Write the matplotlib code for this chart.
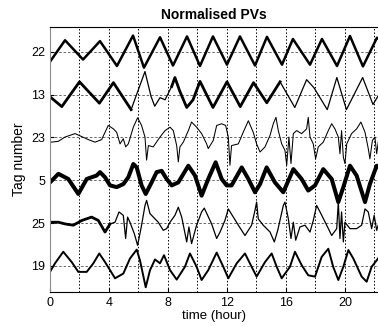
import matplotlib
matplotlib.use("Agg")
import matplotlib.pyplot as plt
import numpy as np

plt.rcParams['font.family'] = ['Liberation Sans', 'DejaVu Sans']

# tags, top to bottom
tags = ['22', '13', '23', '5', '25', '19']

# normalised PV traces (deviation from each tag's baseline), time in hours
t22 = [0, 1.02, 2.24, 3.39, 4.54, 5.63, 6.37, 7.46, 8.34, 9.29, 10.17, 11.05, 12.0,
       12.88, 13.9, 14.71, 15.73, 16.47, 17.63, 18.44, 19.46, 20.34, 21.22, 22.17, 22.3]
v22 = [-0.23, 0.27, -0.18, 0.25, -0.33, 0.38, -0.37, 0.34, -0.32, 0.36, -0.33, 0.36, -0.3,
       0.36, -0.32, 0.35, -0.3, 0.3, -0.3, 0.3, -0.33, 0.37, -0.34, 0.33, 0.3]

t13 = [0, 0.8, 2.0, 3.35, 4.3, 5.5, 6.44, 6.85, 7.1, 7.46, 7.8, 8.25, 8.47, 8.8, 9.27,
       9.7, 10.17, 11.05, 12.0, 12.9, 13.8, 14.7, 15.6, 16.6, 17.4, 17.9, 18.8, 19.45,
       20.1, 21.2, 21.9, 22.3]
v13 = [-0.05, -0.28, 0.3, -0.2, 0.28, -0.35, 0.54, -0.04, -0.27, -0.07, -0.12, 0.19, 0.4,
       0.08, -0.3, -0.12, 0.31, -0.3, 0.3, -0.28, 0.28, -0.19, 0.3, -0.3, 0.35, 0.16,
       -0.35, 0.4, -0.35, 0.4, -0.23, 0.0]

t23 = [0.07, 0.57, 1.02, 1.7, 2.15, 2.6, 3.05, 3.5, 3.95, 4.3, 4.52, 4.75, 4.97, 5.13,
       5.31, 5.65, 5.94, 6.21, 6.44, 6.55, 6.67, 7.0, 7.46, 7.8, 8.14, 8.36, 8.59, 8.7,
       8.81, 9.04, 9.38, 9.6, 9.94, 10.28, 10.62, 10.73, 11.07, 11.3, 11.64, 11.91, 12.09,
       12.2, 12.31, 12.77, 13.1, 13.45, 13.78, 14.01, 14.24, 14.58, 14.92, 15.14, 15.32,
       15.48, 15.71, 15.93, 16.05, 16.2, 16.34, 16.5, 16.72, 17.06, 17.4, 17.51, 17.63,
       17.85, 18.01, 18.19, 18.53, 18.87, 19.1, 19.32, 19.55, 19.66, 19.77, 19.89, 20.0,
       20.12, 20.45, 20.79, 21.08, 21.36, 21.58, 21.69, 21.86, 22.03, 22.15, 22.3]
v23 = [-0.11, -0.09, 0.01, 0.09, 0.02, -0.05, -0.11, -0.05, 0.28, 0.2, 0.12, -0.15, -0.03,
       -0.22, -0.15, 0.24, 0.46, 0.28, 0.01, -0.53, -0.19, -0.22, 0.01, 0.16, 0.24, 0.16,
       -0.19, -0.57, -0.22, -0.11, 0.16, 0.36, 0.24, 0.09, -0.15, -0.26, -0.07, 0.28, 0.32,
       0.28, 0.01, -0.65, -0.19, -0.15, 0.12, 0.39, 0.12, -0.15, -0.34, -0.22, 0.05, 0.32,
       0.47, 0.16, -0.15, -0.3, -0.65, 0.01, -0.61, 0.09, 0.16, 0.09, 0.2, 0.47, 0.01,
       -0.15, -0.5, -0.22, -0.11, 0.16, 0.32, 0.2, 0.01, -0.38, 0.16, -0.46, -0.61, -0.15,
       0.09, 0.2, 0.36, 0.12, -0.26, -0.5, -0.07, 0.01, -0.38, 0.0]

t5 = [0, 0.57, 1.24, 1.92, 2.49, 2.82, 3.16, 3.39, 3.73, 4.07, 4.52, 4.97, 5.31, 5.65,
      5.88, 6.21, 6.49, 6.89, 7.23, 7.57, 7.91, 8.25, 8.7, 9.38, 9.83, 10.28, 10.73,
      11.23, 11.64, 11.98, 12.31, 13.0, 13.45, 13.9, 14.24, 14.69, 15.25, 15.82, 16.5,
      17.06, 17.51, 17.97, 18.53, 19.1, 19.55, 19.89, 20.34, 20.79, 21.36, 21.69, 22.15, 22.3]
v5 = [-0.05, 0.15, 0.03, -0.32, 0.03, 0.07, 0.11, 0.19, 0.07, -0.12, -0.16, -0.09, 0.07,
      0.38, 0.3, -0.12, -0.32, -0.05, 0.19, 0.22, 0.03, -0.12, -0.05, 0.34, 0.11, -0.36,
      0.03, 0.42, 0.03, -0.12, -0.12, 0.3, 0.03, -0.28, -0.09, 0.3, -0.05, -0.28, 0.26,
      0.03, -0.24, -0.12, 0.26, 0.03, -0.51, -0.16, 0.34, 0.11, -0.51, -0.09, 0.34, 0.3]

t25 = [0.07, 0.57, 1.02, 1.58, 2.15, 2.82, 3.28, 3.73, 4.07, 4.41, 4.68, 4.97, 5.13, 5.26,
       5.42, 5.72, 5.94, 6.21, 6.44, 6.55, 6.78, 7.34, 7.68, 7.91, 8.14, 8.47, 8.7, 8.93,
       9.27, 9.42, 9.6, 9.94, 10.28, 10.46, 10.96, 11.3, 11.53, 11.86, 12.09, 12.43, 12.77,
       13.22, 13.67, 13.9, 14.01, 14.12, 14.46, 14.92, 15.21, 15.44, 15.82, 15.93, 16.16,
       16.34, 16.5, 16.66, 16.95, 17.29, 17.63, 17.85, 18.08, 18.31, 18.76, 19.1, 19.44,
       19.55, 19.66, 19.77, 19.89, 20.0, 20.34, 20.79, 21.13, 21.36, 21.58, 21.81, 21.98,
       22.15, 22.3]
v25 = [0.02, 0.02, -0.02, -0.05, 0.06, 0.14, 0.06, -0.21, -0.02, 0.02, 0.26, 0.18, -0.36,
       0.14, 0.02, -0.25, -0.52, -0.05, 0.41, 0.53, 0.22, 0.02, -0.17, -0.13, 0.02, 0.18,
       0.37, 0.14, -0.44, -0.09, -0.48, -0.05, 0.26, 0.35, -0.02, -0.36, -0.21, 0.06, 0.33,
       0.14, -0.05, -0.29, -0.05, 0.3, 0.49, 0.1, -0.05, -0.21, -0.44, -0.17, 0.41, 0.49,
       0.1, -0.36, 0.02, -0.4, -0.09, -0.05, -0.21, 0.06, 0.41, 0.26, -0.05, -0.29, -0.13,
       0.49, -0.36, 0.26, -0.44, 0.02, -0.13, -0.13, -0.05, 0.33, 0.26, -0.13, 0.18, -0.17, 0.0]

t19 = [0, 0.34, 0.9, 1.47, 1.92, 2.49, 2.94, 3.34, 3.73, 4.41, 4.97, 5.42, 5.88, 6.1, 6.49,
       6.78, 7.12, 7.46, 7.73, 8.14, 8.59, 9.15, 9.49, 9.94, 10.28, 10.73, 11.3, 11.75,
       12.09, 12.66, 13.22, 13.67, 14.01, 14.58, 15.03, 15.37, 15.71, 16.27, 16.61, 17.06,
       17.51, 17.97, 18.42, 18.87, 19.2, 19.55, 19.89, 20.23, 20.57, 21.13, 21.47, 21.81,
       22.15, 22.3]
v19 = [-0.14, 0.06, 0.33, 0.09, -0.14, -0.14, 0.06, 0.29, 0.09, -0.29, -0.18, 0.17, 0.38,
       0.13, -0.5, -0.1, 0.15, 0.06, 0.25, -0.1, -0.32, -0.02, 0.29, -0.02, -0.33, -0.1,
       0.31, -0.02, -0.29, 0.06, 0.29, -0.02, -0.25, 0.09, 0.29, -0.02, -0.29, -0.02, 0.33,
       0.02, -0.22, -0.25, 0.21, 0.4, -0.02, -0.33, -0.02, 0.37, 0.17, -0.25, -0.37, -0.02,
       0.13, 0.2]

traces = [(t22, v22), (t13, v13), (t23, v23), (t5, v5), (t25, v25), (t19, v19)]
widths = [1.8, 0.9, 0.75, 2.9, 0.9, 1.4]
# stretches where the noisy signal reads as a thick band
thick = {1: [(0, 6.2), (8.2, 16.1)], 4: [(0, 4.1)]}

fig = plt.figure(figsize=(3.78, 3.26), dpi=100)
ax = fig.add_axes([50 / 378, 34 / 326, 328 / 378, 265 / 326])

n = len(tags)
for i, (t, v) in enumerate(traces):
    base = n - i
    t = np.array(t)
    y = base + np.array(v)
    ax.plot(t, y, color='k', lw=widths[i])
    for lo, hi in thick.get(i, []):
        m = (t >= lo) & (t <= hi)
        ax.plot(t[m], y[m], color='k', lw=2.0)

ax.set_xlim(0, 22.24)
ax.set_ylim(0.39, 6.58)
ax.set_xticks([0, 4, 8, 12, 16, 20])
ax.set_xticks([2, 6, 10, 14, 18, 22], minor=True)
ax.set_yticks(np.arange(n, 0, -1))
ax.set_yticklabels(tags)
ax.grid(which='both', axis='x', ls=(0, (1.5, 2)), color='k', lw=0.7)
ax.grid(axis='y', ls=(0, (2.5, 2)), color='0.4', lw=0.7)
ax.tick_params(which='both', direction='in', length=3, labelsize=9)
ax.tick_params(which='minor', length=0)

ax.spines['right'].set_visible(False)
ax.spines['left'].set_color('0.55')

ax.set_xlabel('time (hour)', fontsize=9.5, labelpad=1)
ax.set_ylabel('Tag number', fontsize=10, labelpad=4)
ax.set_title('Normalised PVs', fontsize=10, fontweight='bold', pad=6)

fig.savefig('out.png', dpi=100)
